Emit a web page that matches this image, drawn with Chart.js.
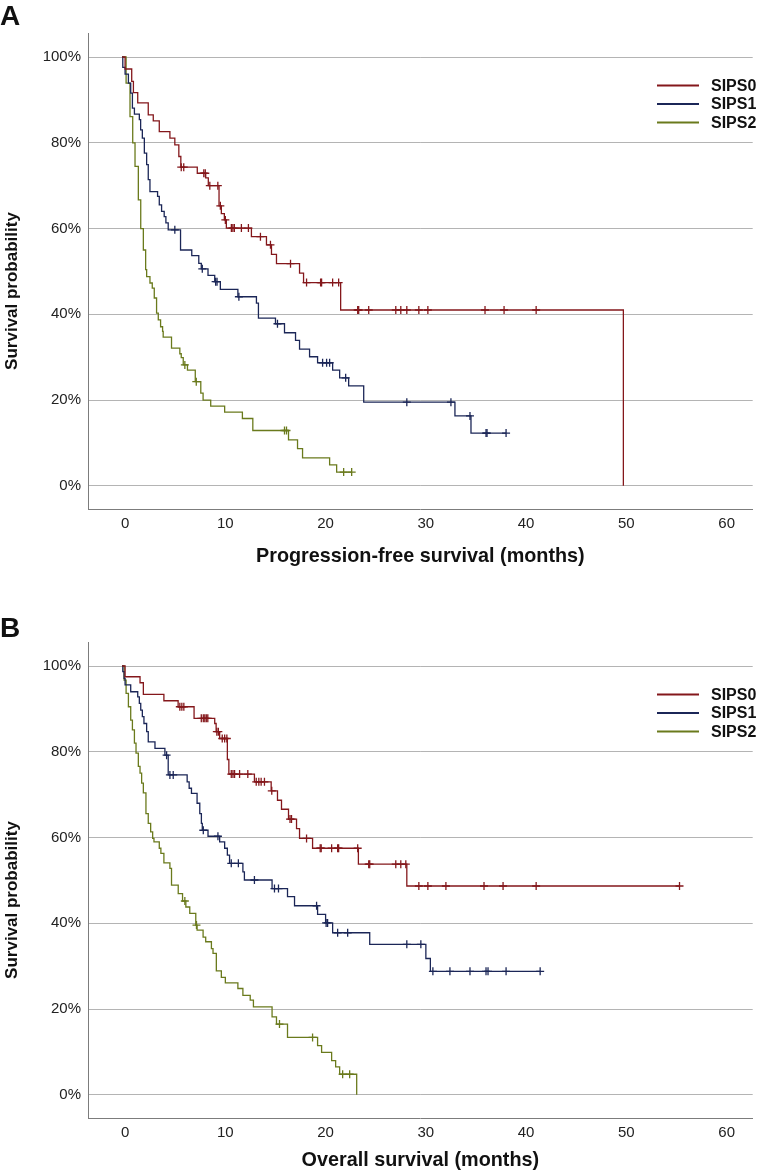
<!DOCTYPE html>
<html><head><meta charset="utf-8">
<script src="https://cdn.jsdelivr.net/npm/chart.js@4.4.1/dist/chart.umd.min.js"></script>
<style>
html,body{margin:0;padding:0;background:#fff;}
#wrap{position:relative;width:758px;height:1174px;overflow:hidden;background:#fff;}
.panel{position:absolute;left:0;width:758px;height:587px;}
.lbl{position:absolute;left:0;font:bold 28px "Liberation Sans",Arial,sans-serif;line-height:28px;color:#111;}
canvas{display:block;}
</style></head><body>
<div id="wrap">
  <div class="panel" style="top:0"><canvas id="cA" width="758" height="587"></canvas></div>
  <div class="panel" style="top:587px"><canvas id="cB" width="758" height="587"></canvas></div>
  <div class="lbl" style="top:2px">A</div>
  <div class="lbl" style="top:614px">B</div>
</div>
<script>
// ---------- data ----------
const groups = ['SIPS0', 'SIPS1', 'SIPS2'];
const xTicks = [0, 10, 20, 30, 40, 50, 60];
const yTicks = [0, 20, 40, 60, 80, 100];
const yTitle = 'Survival probability';

// Panel A: progression-free survival. Event times (months), survival (%) after each event, censor times
const pfs0Time = [0.3, 0.96, 1.13, 1.56, 2.61, 3.11, 3.71, 4.77, 5.26, 5.66, 5.86, 7.5, 8.34, 8.6, 9.67, 9.9, 10.2, 10.4, 12.9, 14.4, 14.9, 15.4, 17.7, 18.1, 21.8, 50.0];
const pfs0Surv = [97.2, 94.3, 91.7, 89.3, 86.5, 85.1, 82.6, 81.1, 79.5, 76.8, 74.3, 72.9, 71.8, 70.0, 65.3, 63.5, 62.0, 60.1, 58.1, 56.2, 54.0, 51.8, 49.6, 47.4, 41.0, 0];
const pfs0Cens = [5.9, 6.15, 8.15, 8.3, 8.75, 9.55, 9.8, 10.3, 10.9, 11.05, 11.2, 11.9, 12.6, 13.8, 14.8, 16.8, 18.4, 19.8, 19.9, 21.0, 21.6, 23.5, 23.6, 24.6, 27.3, 27.8, 28.4, 29.6, 30.5, 36.2, 38.1, 41.3];

const pfs1Time = [0.07, 0.3, 0.63, 0.86, 1.03, 1.23, 1.72, 1.85, 2.02, 2.22, 2.45, 2.61, 2.78, 3.54, 3.71, 3.94, 4.2, 4.37, 4.6, 5.83, 6.95, 7.65, 7.9, 8.57, 9.24, 9.8, 11.55, 13.4, 13.6, 15.3, 16.2, 17.3, 17.7, 18.7, 19.5, 21.0, 21.7, 22.6, 24.1, 33.2, 34.8];
const pfs1Surv = [97.6, 96.0, 93.9, 91.6, 88.1, 86.7, 85.4, 83.0, 81.1, 77.6, 74.9, 71.4, 68.6, 67.5, 65.5, 64.0, 62.8, 61.3, 59.7, 55.0, 53.7, 51.9, 50.6, 49.1, 47.6, 45.8, 44.1, 42.6, 39.1, 37.8, 35.7, 33.9, 31.9, 30.1, 28.7, 27.0, 25.2, 23.3, 19.5, 16.3, 12.3];
const pfs1Cens = [5.26, 8.0, 9.33, 9.47, 11.65, 15.5, 20.0, 20.4, 20.7, 22.3, 28.4, 32.8, 34.7, 36.3, 36.4, 38.3];

const pfs2Time = [0.4, 0.79, 1.06, 1.29, 1.62, 1.86, 2.12, 2.35, 2.45, 2.78, 3.01, 3.21, 3.44, 3.61, 3.84, 4.04, 4.1, 4.93, 5.76, 5.9, 6.1, 6.52, 7.3, 7.85, 8.08, 8.84, 10.23, 12.0, 13.04, 16.6, 17.5, 18.0, 20.7, 21.4];
const pfs2Surv = [93.9, 86.1, 80.0, 74.5, 66.7, 60.0, 55.0, 50.4, 48.8, 47.3, 46.1, 43.8, 40.3, 38.7, 37.1, 36.0, 34.7, 32.1, 30.8, 29.9, 28.2, 27.0, 24.3, 21.6, 20.0, 18.6, 17.2, 15.7, 12.9, 10.7, 8.7, 6.5, 4.9, 3.2];
const pfs2Cens = [6.26, 7.4, 16.2, 16.4, 22.1, 22.9];

// Panel B: overall survival
const os0Time = [0.3, 1.79, 2.12, 4.17, 5.59, 7.18, 9.24, 9.38, 9.73, 10.5, 10.65, 13.2, 14.87, 15.5, 15.9, 16.6, 17.4, 17.7, 19.0, 23.57, 28.4];
const os0Surv = [97.5, 96.1, 93.4, 91.9, 90.5, 87.8, 86.6, 84.7, 83.1, 78.2, 74.8, 73.0, 70.9, 68.7, 66.6, 64.3, 62.1, 59.8, 57.5, 53.8, 48.7];
const os0Cens = [5.76, 5.96, 6.16, 7.9, 8.1, 8.25, 8.4, 8.55, 9.45, 9.6, 9.99, 10.23, 10.45, 10.89, 11.06, 11.22, 11.72, 12.54, 13.38, 13.64, 13.87, 14.2, 14.93, 16.75, 16.9, 18.4, 19.76, 19.86, 20.9, 21.5, 21.6, 23.5, 24.6, 24.7, 27.3, 27.8, 28.3, 29.6, 30.5, 32.3, 36.1, 38.0, 41.3, 55.6];

const os1Time = [0.07, 0.2, 0.3, 0.86, 1.56, 1.72, 1.86, 2.02, 2.18, 2.45, 2.61, 3.28, 4.27, 4.6, 6.49, 6.69, 6.92, 7.48, 7.75, 7.91, 8.0, 8.57, 9.73, 10.23, 10.5, 10.72, 12.05, 12.2, 14.96, 16.5, 17.2, 19.5, 20.3, 21.0, 24.7, 30.3, 30.75];
const os1Surv = [98.7, 97.1, 95.6, 94.0, 92.8, 91.3, 89.7, 88.2, 86.6, 84.7, 82.3, 80.8, 79.2, 74.6, 73.0, 71.5, 70.3, 68.0, 65.6, 63.3, 61.7, 60.3, 59.0, 57.5, 55.9, 54.0, 52.0, 50.1, 48.1, 46.2, 44.1, 42.1, 40.1, 37.8, 35.1, 31.8, 28.8];
const os1Cens = [4.44, 4.77, 5.1, 8.1, 9.56, 10.89, 11.6, 13.2, 15.2, 15.6, 19.4, 20.35, 20.5, 21.5, 22.5, 28.4, 29.8, 31.0, 32.7, 34.7, 36.3, 36.5, 38.3, 41.7];

const os2Time = [0.2, 0.4, 0.63, 0.86, 1.03, 1.23, 1.39, 1.62, 1.79, 1.95, 2.12, 2.38, 2.61, 2.85, 3.05, 3.18, 3.71, 3.87, 4.17, 4.77, 4.93, 5.6, 6.03, 6.36, 6.75, 7.35, 7.48, 8.08, 8.34, 8.91, 9.07, 9.4, 9.9, 10.3, 11.55, 12.05, 12.78, 13.1, 14.96, 15.4, 16.5, 19.5, 19.9, 20.9, 21.3, 21.7, 23.4];
const os2Surv = [96.7, 93.6, 90.5, 87.4, 85.1, 82.0, 79.7, 76.6, 75.0, 72.7, 70.4, 65.6, 63.3, 61.3, 59.8, 59.0, 57.5, 56.3, 54.1, 52.8, 48.9, 46.9, 45.2, 43.8, 42.3, 39.6, 38.4, 36.8, 35.7, 34.1, 33.0, 28.9, 27.4, 26.1, 24.8, 23.2, 22.1, 20.5, 18.2, 16.5, 13.4, 11.5, 9.9, 8.0, 6.5, 4.8, 0];
const os2Cens = [6.26, 7.42, 15.7, 19.0, 22.0, 22.7];

// ---------- drawing ----------
const colors = ['#84171b', '#1b2657', '#6a7a1c'];
const F = '"Liberation Sans", Arial, Helvetica, sans-serif';

function buildSteps(times, surv, cens) {
  const pts = [{x: 0, y: 100}];
  times.forEach((t, i) => pts.push({x: t, y: surv[i]}));
  const lastE = times[times.length - 1];
  const lastC = cens.length ? cens[cens.length - 1] : 0;
  if (lastC > lastE) pts.push({x: lastC, y: surv[surv.length - 1]});
  return pts;
}
function survAt(times, surv, t) {
  let s = 100;
  for (let i = 0; i < times.length; i++) { if (times[i] <= t) s = surv[i]; else break; }
  return s;
}

const kmDecor = {
  id: 'kmDecor',
  afterDraw(chart) {
    const {ctx, chartArea} = chart;
    ctx.save();
    // legend
    groups.forEach((g, i) => {
      const y = chartArea.top + 52.5 + i * 18.5;
      ctx.strokeStyle = colors[i];
      ctx.lineWidth = 2;
      ctx.beginPath(); ctx.moveTo(657, y); ctx.lineTo(699, y); ctx.stroke();
      ctx.fillStyle = '#111';
      ctx.font = 'bold 16px ' + F;
      ctx.textBaseline = 'middle';
      ctx.textAlign = 'left';
      ctx.fillText(g, 711, y + 1);
    });
    // y axis title (slightly below the centre of the axis, as in the reference)
    ctx.translate(12, (chartArea.top + chartArea.bottom) / 2 + 20);
    ctx.rotate(-Math.PI / 2);
    ctx.fillStyle = '#111';
    ctx.font = 'bold 17px ' + F;
    ctx.textAlign = 'center';
    ctx.textBaseline = 'middle';
    ctx.fillText(yTitle, 0, 0);
    ctx.restore();
  }
};

function makeChart(id, series, xTitle, area) {
  const datasets = [];
  series.forEach((s, i) => datasets.push({
    label: groups[i], data: buildSteps(s.t, s.s, s.c), stepped: true,
    borderColor: colors[i], borderWidth: 1.3, pointRadius: 0, fill: false, order: 2
  }));
  series.forEach((s, i) => datasets.push({
    label: groups[i] + ' censored', data: s.c.map(t => ({x: t, y: survAt(s.t, s.s, t)})),
    showLine: false, pointStyle: 'cross', pointRadius: 4, pointHoverRadius: 4,
    borderColor: colors[i], backgroundColor: colors[i], pointBorderWidth: 1.3, order: 1
  }));
  return new Chart(document.getElementById(id), {
    type: 'line',
    data: {datasets},
    options: {
      responsive: false, animation: false, devicePixelRatio: 1,
      layout: {padding: {top: area.top, right: 3, left: 0, bottom: 0}},
      plugins: {legend: {display: false}, tooltip: {enabled: false}},
      scales: {
        x: {
          type: 'linear', min: -3.4, max: 62.9,
          afterBuildTicks: sc => { sc.ticks = xTicks.map(v => ({value: v})); },
          afterFit: sc => { sc.height = area.xh; },
          grid: {display: false, drawTicks: false},
          border: {display: true, color: '#7c7c7c', width: 1},
          ticks: {padding: 6, labelOffset: 3, color: '#222', font: {family: F, size: 15}, maxRotation: 0},
          title: {display: true, text: xTitle, color: '#111', font: {family: F, size: 19.8, weight: 'bold'}, padding: {top: 0, bottom: area.tp}}
        },
        y: {
          type: 'linear', min: -5.4, max: 105.6,
          afterBuildTicks: sc => { sc.ticks = yTicks.map(v => ({value: v})); },
          afterFit: sc => { sc.width = 88; },
          grid: {display: true, drawTicks: false, color: '#b4b4b4', lineWidth: 1},
          border: {display: true, color: '#7c7c7c', width: 1},
          ticks: {padding: 7, color: '#222', font: {family: F, size: 15}, callback: v => v + '%'},
          title: {display: false, text: yTitle}
        }
      }
    },
    plugins: [kmDecor]
  });
}

makeChart('cA', [
  {t: pfs0Time, s: pfs0Surv, c: pfs0Cens},
  {t: pfs1Time, s: pfs1Surv, c: pfs1Cens},
  {t: pfs2Time, s: pfs2Surv, c: pfs2Cens}
], 'Progression-free survival (months)', {top: 33, xh: 78, tp: 18.1});

makeChart('cB', [
  {t: os0Time, s: os0Surv, c: os0Cens},
  {t: os1Time, s: os1Surv, c: os1Cens},
  {t: os2Time, s: os2Surv, c: os2Cens}
], 'Overall survival (months)', {top: 55, xh: 56, tp: 1.6});
</script>
</body></html>
